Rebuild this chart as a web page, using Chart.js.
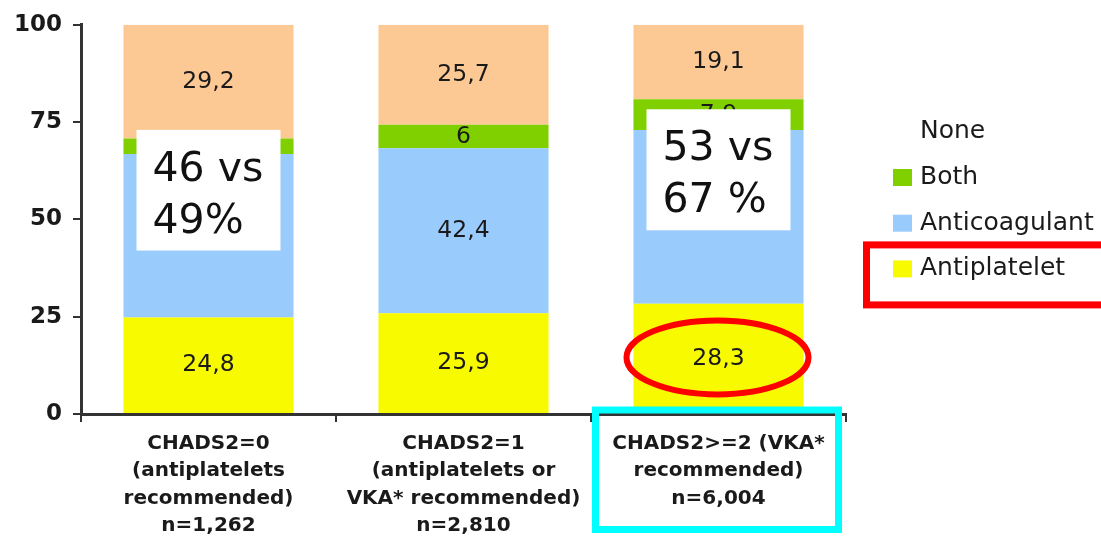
<!DOCTYPE html>
<html>
<head>
<meta charset="utf-8">
<script src="https://cdn.jsdelivr.net/npm/chart.js@4/dist/chart.umd.min.js"></script>
<style>
  html, body { margin: 0; padding: 0; background: #fff; }
  #wrap { width: 1101px; height: 536px; position: relative; }
</style>
</head>
<body>
<div id="wrap"><canvas id="c" width="1101" height="536"></canvas></div>
<script>
// Treatment received by CHADS2 risk group (% of patients)
const categories = [
  ['CHADS2=0', '(antiplatelets', 'recommended)', 'n=1,262'],
  ['CHADS2=1', '(antiplatelets or', 'VKA* recommended)', 'n=2,810'],
  ['CHADS2>=2 (VKA*', 'recommended)', 'n=6,004']
];
const antiplatelet  = [24.8, 25.9, 28.3];
const anticoagulant = [42.0, 42.4, 44.7];
const both          = [4.0, 6.0, 7.9];
const none          = [29.2, 25.7, 19.1];
const yTicks        = [0, 25, 50, 75, 100];

// Callout boxes: category index, value span they cover, text lines
const callouts = [
  { index: 0, from: 73.0, to: 42.0, lines: ['46 vs', '49%'] },
  { index: 2, from: 78.3, to: 47.2, lines: ['53 vs', '67 %'] }
];

const FONT = '"DejaVu Sans", "Liberation Sans", Arial, sans-serif';
const fmt = v => String(v).replace('.', ',');

const valueLabels = {
  id: 'valueLabels',
  afterDatasetsDraw(chart) {
    const ctx = chart.ctx;
    ctx.save();
    ctx.font = '23.5px ' + FONT;
    ctx.fillStyle = '#1a1a1a';
    ctx.textAlign = 'center';
    ctx.textBaseline = 'middle';
    chart.data.datasets.forEach((ds, di) => {
      chart.getDatasetMeta(di).data.forEach((bar, i) => {
        ctx.fillText(fmt(ds.data[i]), bar.x, (bar.y + bar.base) / 2);
      });
    });
    ctx.restore();
  }
};

const overlays = {
  id: 'overlays',
  afterDraw(chart) {
    const ctx = chart.ctx;
    const x = chart.scales.x, y = chart.scales.y;
    const area = chart.chartArea;
    ctx.save();

    // white callout boxes over the bars
    callouts.forEach(c => {
      const cx = x.getPixelForValue(c.index);
      const top = y.getPixelForValue(c.from);
      const bottom = y.getPixelForValue(c.to);
      const left = cx - 72, w = 144;
      ctx.fillStyle = '#ffffff';
      ctx.fillRect(left, top, w, bottom - top);
      ctx.fillStyle = '#111';
      ctx.font = '41px ' + FONT;
      ctx.textAlign = 'left';
      ctx.textBaseline = 'alphabetic';
      ctx.fillText(c.lines[0], left + 16, top + 51);
      ctx.fillText(c.lines[1], left + 16, top + 103);
    });

    // red ellipse around the antiplatelet value of the last group
    const meta = chart.getDatasetMeta(0);
    const last = meta.data[meta.data.length - 1];
    ctx.strokeStyle = '#ff0000';
    ctx.lineWidth = 6;
    ctx.beginPath();
    ctx.ellipse(last.x - 1, (last.y + last.base) / 2 - 1, 91, 37, 0, 0, Math.PI * 2);
    ctx.stroke();

    // cyan frame around the last category label
    const lx = x.getPixelForValue(categories.length - 1);
    ctx.strokeStyle = '#00ffff';
    ctx.lineWidth = 7;
    ctx.strokeRect(lx - 123, x.top - 4, 243, chart.height - x.top - 2.5);

    // legend, top series first
    const order = chart.data.datasets.slice().reverse();
    const lgX = area.right + 47;
    const lgY = area.top + 107;
    const step = 45.7;
    ctx.font = '25px ' + FONT;
    ctx.textAlign = 'left';
    ctx.textBaseline = 'middle';
    order.forEach((ds, i) => {
      const cy = lgY + i * step;
      if (ds.swatch) {
        ctx.fillStyle = ds.swatch;
        ctx.fillRect(lgX, cy - 8.5, 19, 17);
      }
      ctx.fillStyle = '#1a1a1a';
      ctx.fillText(ds.label, lgX + 27, cy);
    });

    // red frame around the antiplatelet legend entry
    const ry = lgY + (order.length - 1) * step;
    ctx.strokeStyle = '#ff0000';
    ctx.lineWidth = 7;
    ctx.strokeRect(lgX - 26.5, ry - 24, chart.width, 60);

    ctx.restore();
  }
};

new Chart(document.getElementById('c'), {
  type: 'bar',
  data: {
    labels: categories,
    datasets: [
      { label: 'Antiplatelet',  data: antiplatelet,  backgroundColor: '#f8fa00', swatch: '#f8fa00' },
      { label: 'Anticoagulant', data: anticoagulant, backgroundColor: '#99cbfd', swatch: '#99cbfd' },
      { label: 'Both',          data: both,          backgroundColor: '#80d000', swatch: '#80d000' },
      { label: 'None',          data: none,          backgroundColor: '#fcc994', swatch: null }
    ]
  },
  options: {
    responsive: false,
    animation: false,
    events: [],
    layout: { padding: { top: 20, right: 255, left: 0, bottom: 0 } },
    datasets: { bar: { categoryPercentage: 1.0, barPercentage: 0.667, borderWidth: 0 } },
    plugins: { legend: { display: false }, tooltip: { enabled: false }, title: { display: false } },
    scales: {
      x: {
        stacked: true,
        grid: { offset: true, drawOnChartArea: false, drawTicks: true, tickLength: 8, color: '#333', lineWidth: 2 },
        border: { display: true, color: '#333', width: 3 },
        ticks: {
          color: '#1a1a1a',
          padding: 8,
          maxRotation: 0,
          autoSkip: false,
          font: { family: FONT, size: 20, weight: 'bold', lineHeight: 1.37 }
        },
        afterFit(s) { s.height = 122; }
      },
      y: {
        stacked: true,
        min: 0,
        max: 100,
        afterBuildTicks(s) { s.ticks = yTicks.map(v => ({ value: v })); },
        grid: { drawOnChartArea: false, drawTicks: true, tickLength: 8, color: '#333', lineWidth: 2 },
        border: { display: true, color: '#333', width: 3 },
        ticks: {
          color: '#1a1a1a',
          padding: 11,
          font: { family: FONT, size: 23, weight: 'bold' }
        },
        afterFit(s) { s.width = 81; }
      }
    }
  },
  plugins: [valueLabels, overlays]
});
</script>
</body>
</html>
